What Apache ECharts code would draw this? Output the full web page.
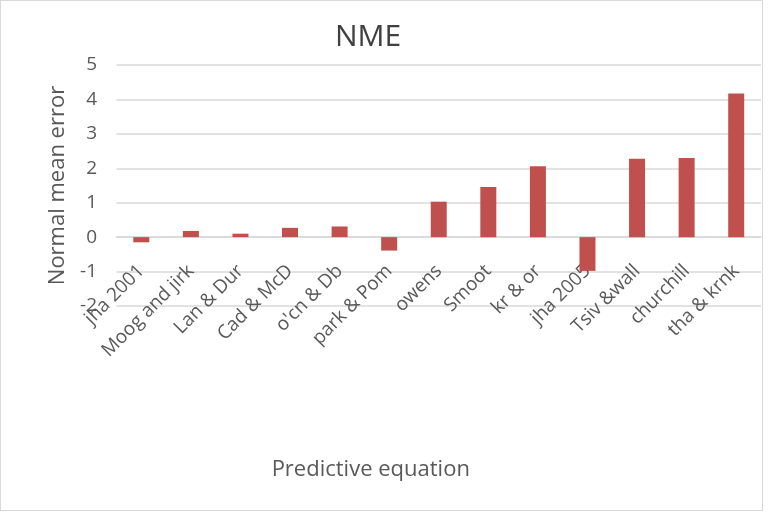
<!DOCTYPE html>
<html>
<head>
<meta charset="utf-8">
<script src="https://cdn.jsdelivr.net/npm/echarts@6/dist/echarts.min.js"></script>
<style>
  html, body { margin: 0; padding: 0; background: #fff; }
  #frame { position: absolute; left: 0; top: 0; width: 763px; height: 511px; box-sizing: border-box; border: 1px solid #d9d9d9; }
  #chart { width: 761px; height: 509px; }
</style>
</head>
<body>
<div id="frame"><div id="chart"></div></div>
<script>
// Predictive equations and their normal mean error
const categories = ['jha 2001', 'Moog and jirk', 'Lan & Dur', 'Cad & McD', "o'cn & Db", 'park & Pom',
  'owens', 'Smoot', 'kr & or', 'jha 2005', 'Tsiv &wall', 'churchill', 'tha & krnk'];
const nmeValues = [-0.15, 0.18, 0.10, 0.27, 0.31, -0.39, 1.03, 1.46, 2.06, -0.98, 2.28, 2.30, 4.17];
const yTicks = { min: -2, max: 5, step: 1 };

const chart = echarts.init(document.getElementById('chart'), null, { renderer: 'canvas' });
const font = '"Open Sans", "Noto Sans", sans-serif';

chart.setOption({
  animation: false,
  title: {
    text: 'NME',
    left: 362, top: 16, textAlign: 'center',
    textStyle: { fontFamily: font, fontSize: 30, fontWeight: 'normal', color: '#404040' }
  },
  grid: { left: 115.5, right: 1, top: 64, bottom: 204, containLabel: false, outerBoundsMode: 'none' },
  xAxis: {
    type: 'category',
    data: categories,
    name: 'Predictive equation',
    nameLocation: 'middle',
    nameGap: 153,
    // right padding pulls the axis title left of the plot centre
    nameTextStyle: { fontFamily: font, fontSize: 22, color: '#595959', padding: [0, 136, 0, 0] },
    axisLine: { onZero: true, lineStyle: { color: '#d9d9d9', width: 1.5 } },
    axisTick: { show: false },
    // labels hang just under the zero line
    axisLabel: { rotate: 45, margin: -38, interval: 0, fontFamily: font, fontSize: 19, color: '#595959' }
  },
  yAxis: {
    type: 'value',
    min: yTicks.min, max: yTicks.max, interval: yTicks.step,
    name: 'Normal mean error',
    nameLocation: 'middle',
    nameGap: 47,
    nameTextStyle: { fontFamily: font, fontSize: 22, color: '#595959' },
    axisLine: { show: false },
    axisTick: { show: false },
    axisLabel: { margin: 19.5, fontFamily: font, fontSize: 19, color: '#595959' },
    splitLine: { lineStyle: { color: '#d9d9d9', width: 1.5 } }
  },
  series: [{
    type: 'bar',
    data: nmeValues,
    barWidth: 16,
    itemStyle: { color: '#c0504d' }
  }]
});
</script>
</body>
</html>
